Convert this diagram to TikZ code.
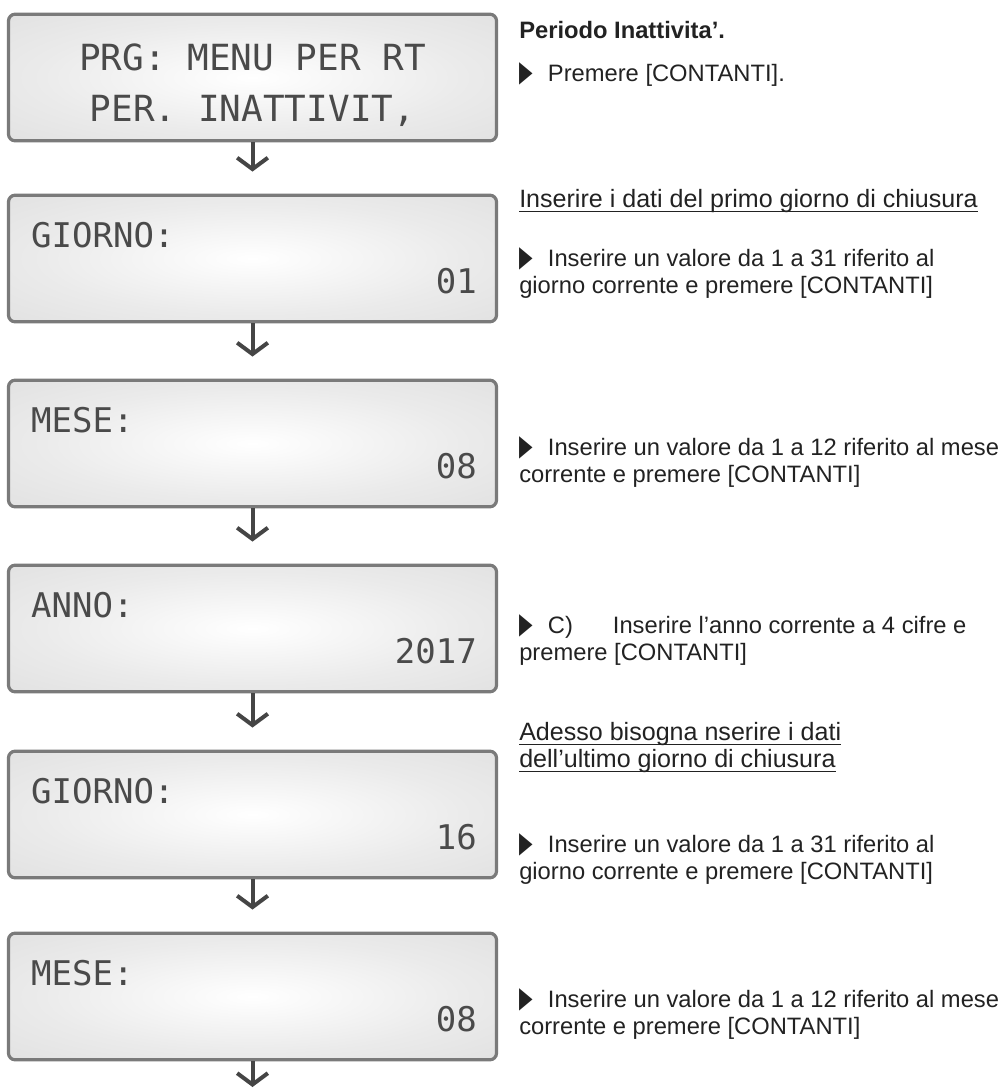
\documentclass[tikz,border=0pt]{standalone}
\usepackage{fontspec}
\usepackage{graphicx}
\setmainfont{Liberation Sans}
\newfontfamily\lcdfont{DejaVu Sans Mono}
\newfontfamily\symfont{DejaVu Sans}
\usetikzlibrary{arrows.meta}
\definecolor{lcdborder}{HTML}{7A7A7A}
\definecolor{lcdink}{HTML}{4A4A4A}
\definecolor{arrowgray}{HTML}{454545}
\definecolor{textink}{HTML}{222222}
\pgfdeclareradialshading{lcdglow}{\pgfpoint{0bp}{0bp}}{color(0bp)=(white); color(22bp)=(black!8); color(50bp)=(black!15)}
\newsavebox\ulbox
\newcommand{\ulin}[1]{\sbox\ulbox{#1}\rlap{\rule[-4pt]{\wd\ulbox}{0.9pt}}\usebox\ulbox}
\newcommand{\tri}{\makebox[21.5pt][l]{\symfont\fontsize{22}{22}\selectfont\scalebox{0.6}[1]{▶}}}
\begin{document}
\begin{tikzpicture}[x=0.75pt,y=-0.75pt,
	lcd/.style={rectangle, rounded corners=5pt, draw=lcdborder, line width=2.4pt, shade, shading=lcdglow, minimum width=366pt, minimum height=95pt},
	lcdtxt/.style={font=\lcdfont\fontsize{25.5}{30}\selectfont, text=lcdink, inner sep=0pt},
	note/.style={font=\fontsize{17.8}{20.25}\selectfont, text=textink, inner sep=0pt, align=left, anchor=base west},
	head/.style={note, font=\fontsize{18.8}{20.25}\selectfont},
	flow/.style={draw=arrowgray, line width=3pt, -{Straight Barb[length=8.5pt, width=23pt]}, shorten >=16.5pt}]
	
	\useasboundingbox (0,0) rectangle (1003,1090);
	
	%Displays
	\node[lcd]	(lcdA)	at (252.5,77.5)	{};
	\node[lcd]	(lcdB)	at (252.5,258.5)	{};
	\node[lcd]	(lcdC)	at (252.5,443.5)	{};
	\node[lcd]	(lcdD)	at (252.5,628.5)	{};
	\node[lcd]	(lcdE)	at (252.5,814.5)	{};
	\node[lcd]	(lcdF)	at (252.5,996.5)	{};
	\coordinate	(tail)	at (252.5,1087);
	
	%Display texts (multi-line nodes sit on their last line)
	\node[lcdtxt, font=\lcdfont\fontsize{27}{38}\selectfont, align=center, anchor=base]	(menu)	at ([shift={(0,109)}]lcdA.north)	{PRG: MENU PER RT\\PER. INATTIVIT,};
	\node[lcdtxt, anchor=base west]	(dayA)	at ([shift={(24,54)}]lcdB.north west)	{GIORNO:};
	\node[lcdtxt, anchor=base east]	(dayAval)	at ([shift={(-21,100)}]lcdB.north east)	{01};
	\node[lcdtxt, anchor=base west]	(monthA)	at ([shift={(24,54)}]lcdC.north west)	{MESE:};
	\node[lcdtxt, anchor=base east]	(monthAval)	at ([shift={(-21,100)}]lcdC.north east)	{08};
	\node[lcdtxt, anchor=base west]	(year)	at ([shift={(24,54)}]lcdD.north west)	{ANNO:};
	\node[lcdtxt, anchor=base east]	(yearval)	at ([shift={(-21,100)}]lcdD.north east)	{2017};
	\node[lcdtxt, anchor=base west]	(dayB)	at ([shift={(24,54)}]lcdE.north west)	{GIORNO:};
	\node[lcdtxt, anchor=base east]	(dayBval)	at ([shift={(-21,100)}]lcdE.north east)	{16};
	\node[lcdtxt, anchor=base west]	(monthB)	at ([shift={(24,54)}]lcdF.north west)	{MESE:};
	\node[lcdtxt, anchor=base east]	(monthBval)	at ([shift={(-21,100)}]lcdF.north east)	{08};
	
	%Notes
	\node[note, font=\bfseries\fontsize{17.8}{20.25}\selectfont]	(title)	at (519,38)	{Periodo Inattivita’.};
	\node[note]	(stepA)	at (519,81)	{\tri Premere [CONTANTI].};
	\node[head]	(headA)	at (519,207)	{\ulin{Inserire i dati del primo giorno di chiusura}};
	\node[note]	(stepB)	at (519,293)	{\tri Inserire un valore da 1 a 31 riferito al\\giorno corrente e premere [CONTANTI]};
	\node[note]	(stepC)	at (519,482)	{\tri Inserire un valore da 1 a 12 riferito al mese\\corrente e premere [CONTANTI]};
	\node[note]	(stepD)	at (519,660)	{\tri\makebox[48.75pt][l]{C)}Inserire l’anno corrente a 4 cifre e\\premere [CONTANTI]};
	\node[head]	(headB)	at (519,767)	{\ulin{Adesso bisogna nserire i dati}\\\ulin{dell’ultimo giorno di chiusura}};
	\node[note]	(stepE)	at (519,879)	{\tri Inserire un valore da 1 a 31 riferito al\\giorno corrente e premere [CONTANTI]};
	\node[note]	(stepF)	at (519,1034)	{\tri Inserire un valore da 1 a 12 riferito al mese\\corrente e premere [CONTANTI]};
	
	%Arrows
	\draw[flow] (lcdA) -- (lcdB);
	\draw[flow] (lcdB) -- (lcdC);
	\draw[flow] (lcdC) -- (lcdD);
	\draw[flow] (lcdD) -- (lcdE);
	\draw[flow] (lcdE) -- (lcdF);
	\draw[flow, shorten >=0pt] (lcdF) -- (tail);
\end{tikzpicture}
\end{document}
